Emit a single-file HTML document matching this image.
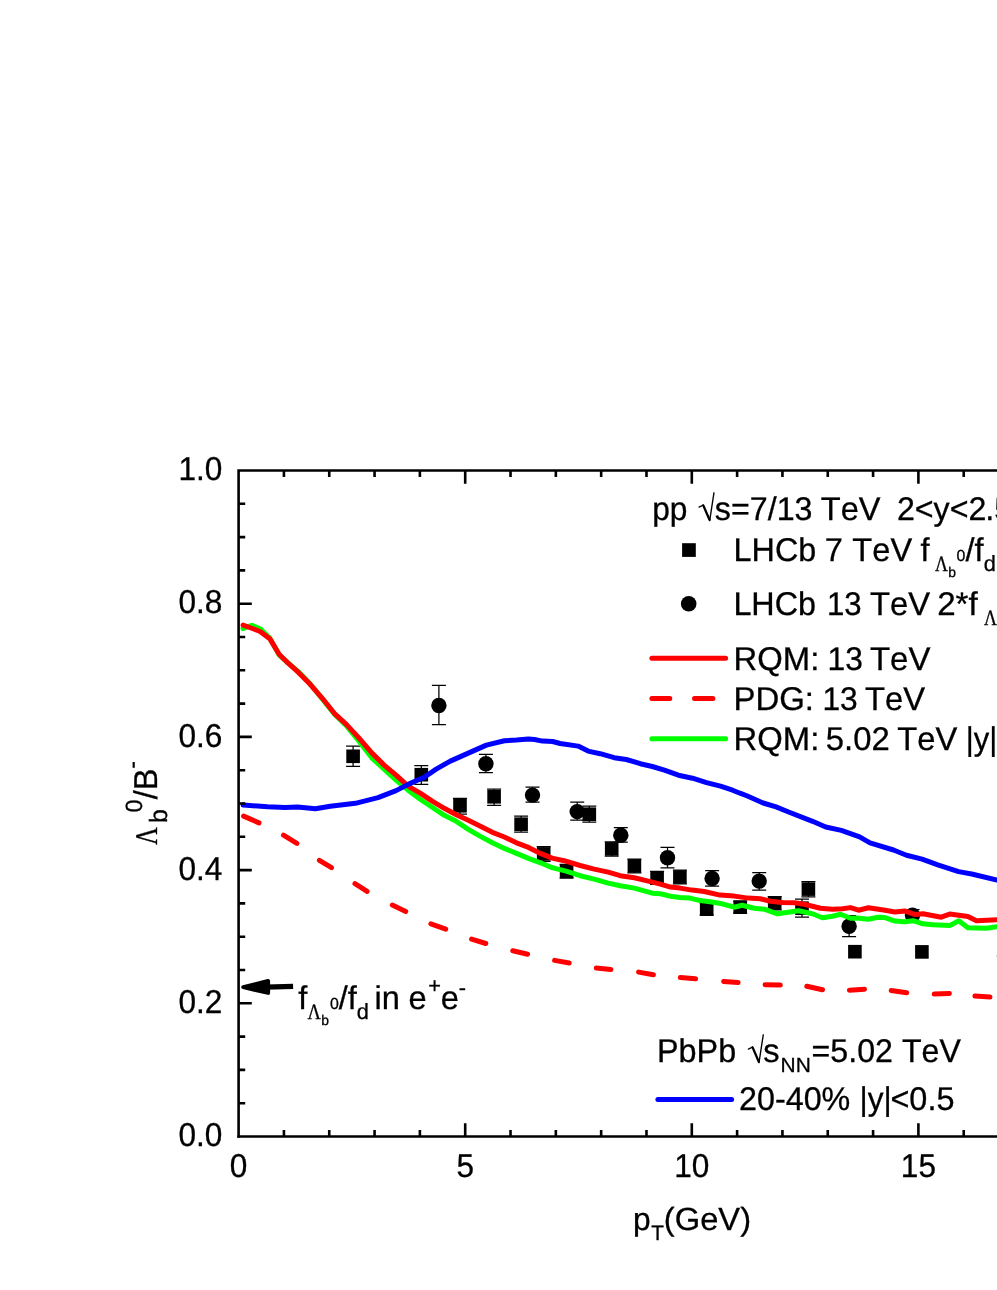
<!DOCTYPE html>
<html><head><meta charset="utf-8"><title>Lambda_b/B- ratio</title>
<style>
html,body{margin:0;padding:0;background:#fff;}
body{width:997px;height:1290px;overflow:hidden;}
svg{display:block;will-change:transform;}
text{font-family:"Liberation Sans",sans-serif;fill:#000;font-kerning:none;stroke:#000;stroke-width:0.3px;text-rendering:geometricPrecision;}
.s{font-family:"Liberation Serif",serif;}
</style></head><body>
<svg width="997" height="1290" viewBox="0 0 997 1290">
<rect x="0" y="0" width="997" height="1290" fill="#fff"/>
<defs><clipPath id="plot"><rect x="238.6" y="470.5" width="763.4" height="666.0"/></clipPath></defs>
<g id="points" fill="#000" stroke="#000">
<path d="M353.1,746.2V766.3M346.1,746.2h14.0M346.1,766.3h14.0" fill="none" stroke-width="1.25"/>
<rect x="346.3" y="749.5" width="13.6" height="13.6" stroke="none"/>
<path d="M421.3,765.7V784.3M414.3,765.7h14.0M414.3,784.3h14.0" fill="none" stroke-width="1.25"/>
<rect x="414.5" y="767.9" width="13.6" height="13.6" stroke="none"/>
<path d="M460.0,798.4V814.0M453.0,798.4h14.0M453.0,814.0h14.0" fill="none" stroke-width="1.25"/>
<rect x="453.2" y="799.0" width="13.6" height="13.6" stroke="none"/>
<path d="M494.1,789.0V805.4M487.1,789.0h14.0M487.1,805.4h14.0" fill="none" stroke-width="1.25"/>
<rect x="487.3" y="790.0" width="13.6" height="13.6" stroke="none"/>
<path d="M521.1,816.2V832.2M514.1,816.2h14.0M514.1,832.2h14.0" fill="none" stroke-width="1.25"/>
<rect x="514.3" y="817.4" width="13.6" height="13.6" stroke="none"/>
<path d="M543.7,846.7V861.3M536.7,846.7h14.0M536.7,861.3h14.0" fill="none" stroke-width="1.25"/>
<rect x="536.9" y="847.1" width="13.6" height="13.6" stroke="none"/>
<path d="M566.6,864.3V878.0M559.6,864.3h14.0M559.6,878.0h14.0" fill="none" stroke-width="1.25"/>
<rect x="559.8" y="864.5" width="13.6" height="13.6" stroke="none"/>
<path d="M589.3,806.1V822.2M582.3,806.1h14.0M582.3,822.2h14.0" fill="none" stroke-width="1.25"/>
<rect x="582.5" y="807.4" width="13.6" height="13.6" stroke="none"/>
<path d="M611.7,841.9V856.0M604.7,841.9h14.0M604.7,856.0h14.0" fill="none" stroke-width="1.25"/>
<rect x="604.9" y="842.1" width="13.6" height="13.6" stroke="none"/>
<path d="M634.4,859.0V872.9M627.4,859.0h14.0M627.4,872.9h14.0" fill="none" stroke-width="1.25"/>
<rect x="627.6" y="859.1" width="13.6" height="13.6" stroke="none"/>
<path d="M657.1,871.3V884.4M650.1,871.3h14.0M650.1,884.4h14.0" fill="none" stroke-width="1.25"/>
<rect x="650.3" y="871.2" width="13.6" height="13.6" stroke="none"/>
<path d="M679.9,870.2V883.8M672.9,870.2h14.0M672.9,883.8h14.0" fill="none" stroke-width="1.25"/>
<rect x="673.1" y="870.2" width="13.6" height="13.6" stroke="none"/>
<path d="M706.7,903.2V915.2M699.7,903.2h14.0M699.7,915.2h14.0" fill="none" stroke-width="1.25"/>
<rect x="699.9" y="902.4" width="13.6" height="13.6" stroke="none"/>
<path d="M740.2,901.2V913.2M733.2,901.2h14.0M733.2,913.2h14.0" fill="none" stroke-width="1.25"/>
<rect x="733.4" y="900.4" width="13.6" height="13.6" stroke="none"/>
<path d="M774.7,896.5V909.8M767.7,896.5h14.0M767.7,909.8h14.0" fill="none" stroke-width="1.25"/>
<rect x="767.9" y="896.4" width="13.6" height="13.6" stroke="none"/>
<path d="M802.0,899.1V917.2M795.0,899.1h14.0M795.0,917.2h14.0" fill="none" stroke-width="1.25"/>
<rect x="795.2" y="901.4" width="13.6" height="13.6" stroke="none"/>
<path d="M808.4,881.6V896.9M801.4,881.6h14.0M801.4,896.9h14.0" fill="none" stroke-width="1.25"/>
<rect x="801.6" y="882.3" width="13.6" height="13.6" stroke="none"/>
<rect x="848.1" y="944.9" width="13.6" height="13.6" stroke="none"/>
<rect x="915.1" y="945.1" width="13.6" height="13.6" stroke="none"/>
<path d="M438.9,685.4V724.6M431.9,685.4h14.0M431.9,724.6h14.0" fill="none" stroke-width="1.25"/>
<circle cx="438.9" cy="705.5" r="7.7" stroke="none"/>
<path d="M485.9,754.3V772.7M478.9,754.3h14.0M478.9,772.7h14.0" fill="none" stroke-width="1.25"/>
<circle cx="485.9" cy="763.7" r="7.7" stroke="none"/>
<path d="M532.5,787.1V802.1M525.5,787.1h14.0M525.5,802.1h14.0" fill="none" stroke-width="1.25"/>
<circle cx="532.5" cy="795.1" r="7.7" stroke="none"/>
<path d="M577.2,802.1V820.2M570.2,802.1h14.0M570.2,820.2h14.0" fill="none" stroke-width="1.25"/>
<circle cx="577.2" cy="811.6" r="7.7" stroke="none"/>
<path d="M620.8,827.6V842.2M613.8,827.6h14.0M613.8,842.2h14.0" fill="none" stroke-width="1.25"/>
<circle cx="620.8" cy="835.2" r="7.7" stroke="none"/>
<path d="M667.5,847.3V867.9M660.5,847.3h14.0M660.5,867.9h14.0" fill="none" stroke-width="1.25"/>
<circle cx="667.5" cy="857.7" r="7.7" stroke="none"/>
<path d="M712.1,870.7V886.1M705.1,870.7h14.0M705.1,886.1h14.0" fill="none" stroke-width="1.25"/>
<circle cx="712.1" cy="878.5" r="7.7" stroke="none"/>
<path d="M759.2,872.5V890.1M752.2,872.5h14.0M752.2,890.1h14.0" fill="none" stroke-width="1.25"/>
<circle cx="759.2" cy="881.1" r="7.7" stroke="none"/>
<path d="M849.1,915.6V936.7M842.1,915.6h14.0M842.1,936.7h14.0" fill="none" stroke-width="1.25"/>
<circle cx="849.1" cy="926.2" r="7.7" stroke="none"/>
<path d="M912.5,909.5V921.4M905.5,909.5h14.0M905.5,921.4h14.0" fill="none" stroke-width="1.25"/>
<circle cx="912.5" cy="915.3" r="7.7" stroke="none"/>
</g>
<g id="curves" fill="none" stroke-linejoin="round" stroke-linecap="round" clip-path="url(#plot)">
<path d="M243.1,628.6 L246.5,627.0 L252.0,625.4 L261.0,629.4 L270.1,638.6 L279.1,654.9 L288.2,663.2 L298.2,671.6 L310.2,684.0 L322.3,698.8 L334.3,714.0 L346.3,725.6 L358.4,740.4 L372.0,758.1 L384.1,769.1 L396.1,780.2 L408.1,790.2 L420.2,799.2 L432.2,807.3 L444.3,815.3 L456.3,821.3 L468.3,829.3 L480.4,836.4 L492.4,842.8 L504.4,848.4 L516.5,853.4 L528.5,858.4 L540.5,862.8 L552.0,867.6 L566.1,871.1 L580.1,875.7 L594.2,879.1 L608.2,883.1 L620.2,885.7 L634.3,888.1 L652.3,893.2 L660.4,893.8 L672.4,896.6 L680.0,897.5 L690.0,898.1 L700.1,900.6 L710.1,901.8 L722.1,903.8 L734.2,907.2 L742.2,905.2 L754.2,908.2 L764.3,909.2 L777.3,913.8 L788.3,912.2 L798.4,910.8 L812.4,913.8 L822.4,917.8 L832.5,916.2 L840.5,914.2 L850.5,918.2 L857.0,917.9 L868.2,919.3 L878.1,917.2 L885.1,917.6 L894.9,921.1 L904.7,921.7 L913.2,920.7 L923.0,923.8 L932.8,924.7 L949.7,925.6 L958.8,920.7 L967.9,927.7 L986.2,928.2 L997.0,926.8 L1002.0,926.6" stroke="#00ff00" stroke-width="5.0"/>
<path d="M243.1,625.1 L251.0,628.0 L260.1,631.5 L270.1,639.1 L279.1,654.2 L288.2,663.2 L298.2,672.2 L310.2,684.3 L322.3,698.3 L334.3,713.3 L346.3,724.4 L358.4,737.4 L372.0,753.1 L384.1,765.1 L396.1,775.2 L408.1,786.2 L420.2,793.2 L432.2,801.2 L444.3,808.3 L456.3,814.7 L468.3,820.3 L480.4,826.3 L492.4,832.3 L504.4,837.0 L516.5,842.8 L528.5,847.4 L540.5,853.4 L552.0,858.1 L564.1,860.7 L580.1,865.5 L594.2,869.1 L608.2,872.1 L620.2,875.7 L634.3,877.7 L648.3,881.1 L660.4,884.1 L670.4,887.1 L680.0,888.1 L692.0,890.1 L704.1,891.5 L720.1,895.1 L734.2,896.1 L748.2,898.1 L760.2,898.7 L770.3,901.2 L782.3,902.6 L794.3,902.8 L804.4,904.2 L820.4,908.2 L832.5,909.2 L842.5,908.8 L850.5,907.6 L858.5,910.2 L868.4,907.8 L885.1,910.2 L894.9,912.0 L904.7,910.9 L914.6,914.4 L923.0,913.7 L941.3,917.2 L949.7,914.1 L967.9,916.5 L976.4,920.7 L997.0,919.7 L1002.0,919.7" stroke="#ff0000" stroke-width="5.0"/>
<path d="M243.6,816.1L259.0,822.9M283.5,835.2L296.9,843.4M319.4,860.3L331.5,867.7M355.0,883.7L367.1,891.4M392.3,905.1L405.7,911.4M430.9,923.8L445.7,929.1M471.6,939.1L485.8,943.5M512.8,950.7L527.6,954.2M554.6,960.4L569.2,963.0M596.3,968.0L610.9,969.4M638.6,972.1L653.4,974.7M680.3,977.6L695.6,978.7M723.6,981.4L738.1,982.5M765.1,984.8L780.3,985.1M806.8,986.2L822.5,989.8M849.4,990.2L864.5,989.2M891.2,990.6L906.7,992.7M934.2,994.1L949.4,993.4M974.9,996.1L990.0,997.1" stroke="#ff0000" stroke-width="5.0"/>
<path d="M243.1,805.1 L267.6,806.8 L285.2,807.6 L297.7,807.1 L315.3,808.8 L330.3,806.3 L355.4,803.3 L378.0,797.6 L396.1,790.6 L408.1,784.4 L424.2,777.2 L436.2,769.1 L450.3,761.1 L468.3,753.1 L486.4,745.1 L504.4,740.7 L516.5,740.1 L528.5,739.1 L534.5,739.5 L542.5,741.1 L552.6,741.5 L560.1,743.5 L578.1,746.1 L588.1,751.1 L600.2,753.7 L614.2,757.7 L626.3,759.5 L640.3,763.7 L652.3,766.5 L664.4,770.2 L678.4,775.2 L692.5,778.2 L706.5,782.6 L720.5,786.2 L732.6,790.2 L740.0,793.2 L747.4,796.0 L763.1,803.0 L776.1,806.9 L789.2,812.2 L812.6,821.3 L825.7,827.0 L841.3,830.4 L859.6,836.9 L870.0,842.9 L893.5,850.0 L906.5,855.2 L922.1,859.1 L937.8,864.8 L958.6,871.6 L971.7,874.0 L997.0,880.0 L1002.0,881.2" stroke="#0000ff" stroke-width="5.0"/>
</g>
<g id="axes" stroke="#000" stroke-width="2.6" fill="none" stroke-linecap="butt">
<path d="M238.6,1137.8V470.5H997"/>
<path d="M237.29999999999998,1136.5H997"/>
<path d="M283.92,1136.5v-6.6M283.92,470.5v6.6M329.24,1136.5v-6.6M329.24,470.5v6.6M374.56,1136.5v-6.6M374.56,470.5v6.6M419.88,1136.5v-6.6M419.88,470.5v6.6M465.20,1136.5v-13.2M465.20,470.5v13.2M510.52,1136.5v-6.6M510.52,470.5v6.6M555.84,1136.5v-6.6M555.84,470.5v6.6M601.16,1136.5v-6.6M601.16,470.5v6.6M646.48,1136.5v-6.6M646.48,470.5v6.6M691.80,1136.5v-13.2M691.80,470.5v13.2M737.12,1136.5v-6.6M737.12,470.5v6.6M782.44,1136.5v-6.6M782.44,470.5v6.6M827.76,1136.5v-6.6M827.76,470.5v6.6M873.08,1136.5v-6.6M873.08,470.5v6.6M918.40,1136.5v-13.2M918.40,470.5v13.2M963.72,1136.5v-6.6M963.72,470.5v6.6"/>
<path d="M238.6,1103.20h6.6M238.6,1069.90h6.6M238.6,1036.60h6.6M238.6,1003.30h13.2M238.6,970.00h6.6M238.6,936.70h6.6M238.6,903.40h6.6M238.6,870.10h13.2M238.6,836.80h6.6M238.6,803.50h6.6M238.6,770.20h6.6M238.6,736.90h13.2M238.6,703.60h6.6M238.6,670.30h6.6M238.6,637.00h6.6M238.6,603.70h13.2M238.6,570.40h6.6M238.6,537.10h6.6M238.6,503.80h6.6"/>
</g>
<g id="ticklabels" font-size="33.0">
<text transform="translate(222.3,1146.1) scale(0.957,1)" text-anchor="end">0.0</text>
<text transform="translate(222.3,1012.9) scale(0.957,1)" text-anchor="end">0.2</text>
<text transform="translate(222.3,879.7) scale(0.957,1)" text-anchor="end">0.4</text>
<text transform="translate(222.3,746.5) scale(0.957,1)" text-anchor="end">0.6</text>
<text transform="translate(222.3,613.3) scale(0.957,1)" text-anchor="end">0.8</text>
<text transform="translate(222.3,480.1) scale(0.957,1)" text-anchor="end">1.0</text>
<text transform="translate(238.6,1176.8) scale(0.957,1)" text-anchor="middle">0</text>
<text transform="translate(465.2,1176.8) scale(0.957,1)" text-anchor="middle">5</text>
<text transform="translate(691.8,1176.8) scale(0.957,1)" text-anchor="middle">10</text>
<text transform="translate(918.4,1176.8) scale(0.957,1)" text-anchor="middle">15</text>
</g>
<g id="xtitle">
</g>
<g id="ytitle" transform="translate(156.9,844.9) rotate(-90)">
<text transform="translate(0.0,0) scale(0.78,1)" font-size="31.5" class="s">&#923;</text>
<text transform="translate(21.9,9.6) scale(0.99,1)" font-size="25">b</text>
<text transform="translate(32.3,-14.8) scale(0.99,1)" font-size="23.5">0</text>
<text transform="translate(45.6,0) scale(0.99,1)" font-size="33">/B</text>
<text transform="translate(76.2,-17.1) scale(0.99,1)" font-size="23.5">-</text>
</g>
<g id="fitted">
<text transform="translate(652.23,520.1) scale(0.9636,1)" font-size="32.9">pp</text>
<text transform="translate(714.82,520.1) scale(0.9799,1)" font-size="32.9">s=7/13</text>
<text transform="translate(820.76,520.1) scale(0.9907,1)" font-size="32.9">TeV</text>
<text transform="translate(896.89,520.1) scale(0.9784,1)" font-size="32.9">2&lt;y&lt;2</text>
<text transform="translate(985.23,520.1) scale(0.99,1)" font-size="32.9">.5</text>
<text transform="translate(733.6,560.6) scale(0.9825,1)" font-size="32.9">LHCb</text>
<text transform="translate(824.64,560.6) scale(0.99,1)" font-size="32.9">7</text>
<text transform="translate(852.36,560.6) scale(0.9907,1)" font-size="32.9">TeV</text>
<text transform="translate(920.57,560.6) scale(0.99,1)" font-size="32.9">f</text>
<text transform="translate(965.42,560.6) scale(0.99,1)" font-size="32.9">/f</text>
<text transform="translate(983.73,570.8) scale(0.99,1)" font-size="22.0">d</text>
<text transform="translate(733.4,614.8) scale(0.9825,1)" font-size="32.9">LHCb</text>
<text transform="translate(826.93,614.8) scale(0.9466,1)" font-size="32.9">13</text>
<text transform="translate(870.05,614.8) scale(0.9958,1)" font-size="32.9">TeV</text>
<text transform="translate(937.14,614.8) scale(1.0078,1)" font-size="32.9">2*f</text>
<text transform="translate(733.56,669.5) scale(0.9981,1)" font-size="32.9">RQM:</text>
<text transform="translate(827.59,669.5) scale(0.9649,1)" font-size="32.9">13</text>
<text transform="translate(869.95,669.5) scale(1.0025,1)" font-size="32.9">TeV</text>
<text transform="translate(733.55,709.9) scale(1.0007,1)" font-size="32.9">PDG:</text>
<text transform="translate(822.39,709.9) scale(0.9649,1)" font-size="32.9">13</text>
<text transform="translate(865.05,709.9) scale(0.9958,1)" font-size="32.9">TeV</text>
<text transform="translate(733.56,750.0) scale(0.9981,1)" font-size="32.9">RQM:</text>
<text transform="translate(825.8,750.0) scale(0.9984,1)" font-size="32.9">5.02</text>
<text transform="translate(897.35,750.0) scale(0.9941,1)" font-size="32.9">TeV</text>
<text transform="translate(965.67,750.0) scale(0.9418,1)" font-size="32.9">|y|</text>
<text transform="translate(657.0,1062.1) scale(0.9836,1)" font-size="32.9">PbPb</text>
<text transform="translate(763.36,1062.1) scale(0.99,1)" font-size="32.9">s</text>
<text transform="translate(780.58,1071.8) scale(1.02,1)" font-size="20.5">NN</text>
<text transform="translate(811.53,1062.1) scale(0.9787,1)" font-size="32.9">=5.02</text>
<text transform="translate(901.97,1062.1) scale(0.9755,1)" font-size="32.9">TeV</text>
<text transform="translate(739.08,1110.3) scale(0.981,1)" font-size="32.9">20-40%</text>
<text transform="translate(859.62,1110.3) scale(0.96,1)" font-size="32.9">|y|</text>
<text transform="translate(890.42,1110.3) scale(0.9855,1)" font-size="32.9">&lt;0.5</text>
<text transform="translate(632.99,1229.6) scale(0.99,1)" font-size="32.0">p</text>
<text transform="translate(651.19,1240.1) scale(0.99,1)" font-size="21.0">T</text>
<text transform="translate(663.86,1229.6) scale(1.0215,1)" font-size="32.0">(GeV)</text>
<text transform="translate(298.22,1008.8) scale(0.99,1)" font-size="32.9">f</text>
<text transform="translate(338.77,1008.8) scale(0.99,1)" font-size="32.9">/f</text>
<text transform="translate(356.63,1018.9) scale(0.99,1)" font-size="22.0">d</text>
<text transform="translate(374.55,1008.9) scale(0.99,1)" font-size="32.9">in</text>
<text transform="translate(408.62,1008.9) scale(0.99,1)" font-size="32.9">e</text>
<text transform="translate(440.72,1008.9) scale(0.99,1)" font-size="32.9">e</text>
<text transform="translate(934.9,571.3) scale(0.8129,1)" font-size="22.0" class="s">&#923;</text>
<text transform="translate(948.37,576.9) scale(0.99,1)" font-size="14.0" stroke-width="0.1">b</text>
<text transform="translate(956.5,560.5) scale(0.99,1)" font-size="16.0" stroke-width="0.1">0</text>
<text transform="translate(984.0,625.0) scale(0.8129,1)" font-size="22.0" class="s">&#923;</text>
<text transform="translate(307.39,1019.1) scale(0.8387,1)" font-size="22.0" class="s">&#923;</text>
<text transform="translate(321.27,1025.0) scale(0.99,1)" font-size="14.0" stroke-width="0.1">b</text>
<text transform="translate(329.9,1008.6) scale(0.99,1)" font-size="16.0" stroke-width="0.1">0</text>
<text transform="translate(428.29,993.2) scale(0.99,1)" font-size="22.0">+</text>
<text transform="translate(458.71,994.5) scale(0.99,1)" font-size="22.0">-</text>
</g>
<g id="legend1" font-size="33.0">
<g transform="translate(0,0)" fill="none" stroke="#000" stroke-linecap="round" stroke-linejoin="round"><path d="M699.1,507.1L703.2,505.1" stroke-width="1.3"/><path d="M703.3,505.4L709.5,519.8" stroke-width="2.3"/><path d="M709.7,520.6L713.95,492.8" stroke-width="1.35"/></g>
<rect x="682.1" y="543.2" width="13.7" height="13.7"/>
<circle cx="688.7" cy="603.7" r="7.8"/>
<path d="M651.9,658.3H725.6" stroke="#ff0000" stroke-width="5.0" stroke-linecap="round" fill="none"/>
<path d="M651.9,698.5H669.8M694.5,698.5H712.9" stroke="#ff0000" stroke-width="5.0" stroke-linecap="round" fill="none"/>
<path d="M651.9,738.8H725.6" stroke="#00ff00" stroke-width="5.0" stroke-linecap="round" fill="none"/>
</g>
<g id="legend2" font-size="33.0">
<g transform="translate(49.3,542.0)" fill="none" stroke="#000" stroke-linecap="round" stroke-linejoin="round"><path d="M699.1,507.1L703.2,505.1" stroke-width="1.3"/><path d="M703.3,505.4L709.5,519.8" stroke-width="2.3"/><path d="M709.7,520.6L713.95,492.8" stroke-width="1.35"/></g>
<path d="M657.9,1099.6H731.6" stroke="#0000ff" stroke-width="5.0" stroke-linecap="round" fill="none"/>
</g>
<g id="annot" font-size="33.0">
<path d="M243.2,987.1L268.1,981.0L268.1,992.9Z" fill="#000" stroke="#000" stroke-width="4" stroke-linejoin="round"/>
<path d="M266,987.05L293.1,986.3" fill="none" stroke="#000" stroke-width="5.3"/>
</g>
<rect x="996" y="955" width="1" height="2" fill="#dcdcdc"/>
</svg></body></html>
